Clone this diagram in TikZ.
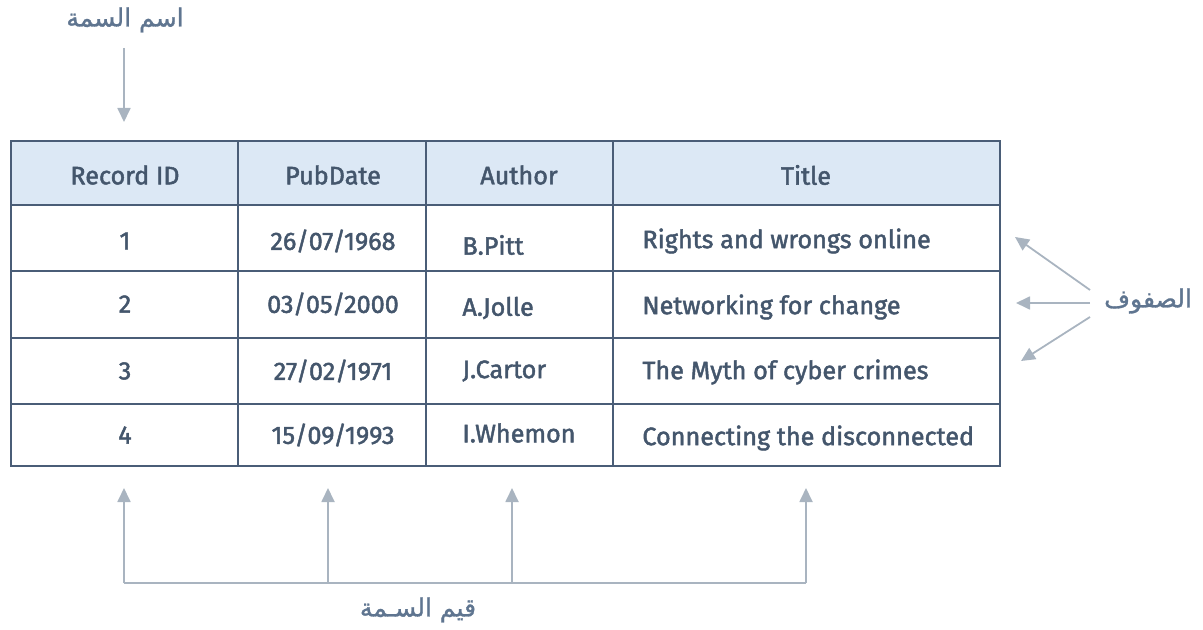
\documentclass[tikz,border=0pt]{standalone}
\usepackage{fontspec}
\setmainfont{Fira Sans}
\newfontfamily\tabfont{Fira Sans}[FakeBold=1.8]
\newfontfamily\arabicfont[Script=Arabic,FakeBold=1.2]{DejaVu Sans}
\TeXXeTstate=1
\usetikzlibrary{arrows.meta}
\definecolor{tabline}{HTML}{4A5D77}
\definecolor{tabtext}{HTML}{44566C}
\definecolor{headfill}{HTML}{DCE8F5}
\definecolor{arrowgray}{HTML}{A9B4C0}
\definecolor{labelblue}{HTML}{5F7590}
\tikzset{
  cell/.style={text=tabtext, font=\tabfont\fontsize{12.6}{14}\selectfont, inner sep=0pt},
  leftcell/.style={cell, anchor=west},
  arlabel/.style={text=labelblue, font=\arabicfont\fontsize{12.5}{14}\selectfont, inner sep=0pt},
  pointer/.style={draw=arrowgray, line width=0.9pt, -{Triangle[length=7pt,width=6.5pt]}},
}

\begin{document}
\begin{tikzpicture}[x=0.5pt, y=-0.5pt]
        \useasboundingbox (0,0) rectangle (1203,630);
        % table
        \fill[headfill] (11,141) rectangle (1000,205);
        \draw[tabline, line width=1pt] (11,141) rectangle (1000,466);
        \foreach \yy in {205,271,338,404}
            \draw[tabline, line width=1pt] (11,\yy) -- (1000,\yy);
        \foreach \xx in {238,426,613}
            \draw[tabline, line width=1pt] (\xx,141) -- (\xx,466);
        % header
        \node[cell] (hid) at (125,175) {Record ID};
        \node[cell] (hdate) at (333,175) {PubDate};
        \node[cell] (hauthor) at (519,175) {Author};
        \node[cell] (htitle) at (806,175) {Title};
        % rows
        \node[cell] (id1) at (125,241) {1};
        \node[cell] (id2) at (125,304) {2};
        \node[cell] (id3) at (125,371) {3};
        \node[cell] (id4) at (125,435) {4};
        \node[cell] (date1) at (333,241) {26/07/1968};
        \node[cell] (date2) at (333,304) {03/05/2000};
        \node[cell] (date3) at (333,371) {27/02/1971};
        \node[cell] (date4) at (333,435) {15/09/1993};
        \node[leftcell] (author1) at (462,245) {B.Pitt};
        \node[leftcell] (author2) at (462,308) {A.Jolle};
        \node[leftcell] (author3) at (462,371) {J.Cartor};
        \node[leftcell] (author4) at (462,433) {I.Whemon};
        \node[leftcell] (title1) at (642,241) {Rights and wrongs online};
        \node[leftcell] (title2) at (642,307) {Networking for change};
        \node[leftcell] (title3) at (642,372) {The Myth of cyber crimes};
        \node[leftcell] (title4) at (642,438) {Connecting the disconnected};
        % labels
        \node[arlabel] (attrname) at (125,20) {\beginR اسم السمة\endR};
        \node[arlabel] (rows) at (1148,301) {\beginR الصفوف\endR};
        \node[arlabel] (attrvalues) at (418,610) {\beginR قيم السـمة\endR};
        % pointers
        \coordinate (nametip) at (124,122);
        \coordinate (rowstart1) at (1090,290);
        \coordinate (rowstart2) at (1090,303);
        \coordinate (rowstart3) at (1090,317);
        \draw[pointer] (124,48) -- (nametip);
        \draw[pointer] (rowstart1) -- (1015,237);
        \draw[pointer] (rowstart2) -- (1016,303);
        \draw[pointer] (rowstart3) -- (1021,361);
        \coordinate (base1) at (124,583);
        \coordinate (base2) at (328,583);
        \coordinate (base3) at (512,583);
        \coordinate (base4) at (806,583);
        \draw[draw=arrowgray, line width=0.9pt] (base1) -- (base4);
        \draw[pointer] (base1) -- (124,488);
        \draw[pointer] (base2) -- (328,488);
        \draw[pointer] (base3) -- (512,488);
        \draw[pointer] (base4) -- (806,488);
\end{tikzpicture}
\end{document}
